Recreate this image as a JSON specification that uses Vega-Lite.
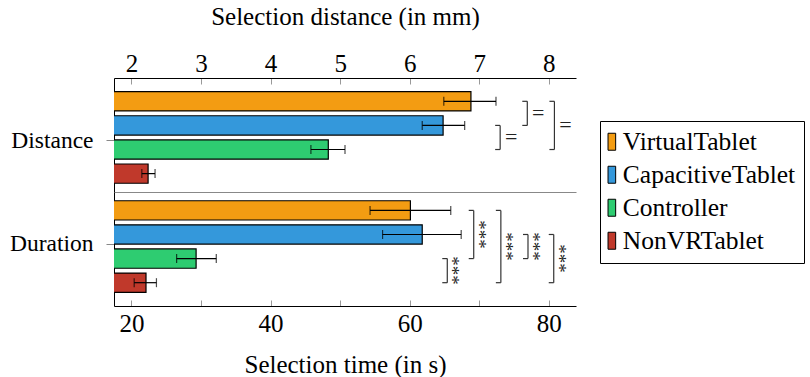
{
  "$schema": "https://vega.github.io/schema/vega-lite/v6.json",
  "autosize": {"type": "pad", "resize": false},
  "padding": {"left": 9, "top": 4, "right": 0, "bottom": 0},
  "config": {
    "view": {"stroke": null},
    "font": "Liberation Serif",
    "axis": {"labelFont": "Liberation Serif", "titleFont": "Liberation Serif", "labelColor": "black", "titleColor": "black", "titleFontWeight": "normal", "domainColor": "black", "tickColor": "#999", "grid": false},
    "legend": {"labelFont": "Liberation Serif"}
  },
  "datasets": {
    "bars": [
      {"measure": "Distance", "cond": "VirtualTablet", "mean": 6.88, "lo": 6.49, "hi": 7.24},
      {"measure": "Distance", "cond": "CapacitiveTablet", "mean": 6.48, "lo": 6.18, "hi": 6.79},
      {"measure": "Distance", "cond": "Controller", "mean": 4.83, "lo": 4.58, "hi": 5.07},
      {"measure": "Distance", "cond": "NonVRTablet", "mean": 2.24, "lo": 2.15, "hi": 2.34},
      {"measure": "Duration", "cond": "VirtualTablet", "mean": 60.1, "lo": 54.3, "hi": 65.9},
      {"measure": "Duration", "cond": "CapacitiveTablet", "mean": 61.8, "lo": 56.1, "hi": 67.4},
      {"measure": "Duration", "cond": "Controller", "mean": 29.3, "lo": 26.5, "hi": 32.2},
      {"measure": "Duration", "cond": "NonVRTablet", "mean": 22.1, "lo": 20.4, "hi": 23.6}
    ],
    "brackets": [
      {"measure": "Distance", "from": "VirtualTablet", "to": "CapacitiveTablet", "mid": "VirtualTablet", "span": 1, "bx": 7.69, "label": "="},
      {"measure": "Distance", "from": "CapacitiveTablet", "to": "Controller", "mid": "CapacitiveTablet", "span": 1, "bx": 7.30, "label": "="},
      {"measure": "Distance", "from": "VirtualTablet", "to": "Controller", "mid": "CapacitiveTablet", "span": 2, "bx": 8.08, "label": "="},
      {"measure": "Duration", "from": "Controller", "to": "NonVRTablet", "mid": "Controller", "span": 1, "bx": 65.4, "label": "***"},
      {"measure": "Duration", "from": "VirtualTablet", "to": "Controller", "mid": "CapacitiveTablet", "span": 2, "bx": 69.2, "label": "***"},
      {"measure": "Duration", "from": "VirtualTablet", "to": "NonVRTablet", "mid": "CapacitiveTablet", "span": 3, "bx": 73.1, "label": "***"},
      {"measure": "Duration", "from": "CapacitiveTablet", "to": "Controller", "mid": "CapacitiveTablet", "span": 1, "bx": 77.0, "label": "***"},
      {"measure": "Duration", "from": "CapacitiveTablet", "to": "NonVRTablet", "mid": "Controller", "span": 2, "bx": 80.7, "label": "***"}
    ]
  },
  "spacing": 0,
  "resolve": {"scale": {"x": "independent", "y": "independent", "fill": "shared"}},
  "vconcat": [
    {
      "width": 462,
      "height": 114,
      "layer": [
        {
          "layer": [
            {
              "data": {"name": "bars"},
              "transform": [{"filter": "datum.measure === 'Distance'"}],
              "layer": [
                {
                  "mark": {"type": "bar", "stroke": "black", "strokeWidth": 1.2, "clip": true},
                  "encoding": {
                    "y": {"field": "cond", "type": "nominal", "axis": null, "scale": {"domain": ["VirtualTablet", "CapacitiveTablet", "Controller", "NonVRTablet"], "paddingInner": 0.2, "paddingOuter": 0.465, "align": 0.61}},
                    "x": {"field": "mean", "type": "quantitative", "scale": {"domain": [1.75, 8.39], "nice": false, "zero": false},
                      "axis": {"orient": "top", "values": [2, 2.5, 3, 3.5, 4, 4.5, 5, 5.5, 6, 6.5, 7, 7.5, 8], "labelExpr": "datum.value % 1 === 0 ? '' + datum.value : ''", "tickSize": -6, "labelPadding": 13, "labelBaseline": "alphabetic", "labelFontSize": 25, "labelFlush": false, "labelOverlap": false, "title": "Selection distance (in mm)", "titleFontSize": 25, "titlePadding": 27, "titleBaseline": "alphabetic"}},
                    "fill": {"field": "cond", "type": "nominal", "scale": {"domain": ["VirtualTablet", "CapacitiveTablet", "Controller", "NonVRTablet"], "range": ["#F39C12", "#3498DB", "#2ECC71", "#C0392B"]},
                      "legend": {"orient": "none", "legendX": 486, "legendY": 43, "title": null, "strokeColor": "black", "fillColor": "white", "padding": 8, "symbolType": "M -3.0 -2 L -1.2 -2 L -1.2 2 L -3.0 2 Z", "symbolSize": 72, "symbolStrokeColor": "black", "symbolStrokeWidth": 1, "labelFontSize": 25.5, "labelColor": "black", "labelOffset": -10.7, "rowPadding": 6, "labelLimit": 300}}
                  }
                },
                {
                  "mark": {"type": "rule", "color": "black", "strokeWidth": 1.2},
                  "encoding": {
                    "y": {"field": "cond", "type": "nominal", "axis": null, "bandPosition": 0.5},
                    "x": {"field": "lo", "type": "quantitative"},
                    "x2": {"field": "hi"}
                  }
                },
                {
                  "mark": {"type": "tick", "color": "black", "size": 9, "thickness": 1.2},
                  "encoding": {"y": {"field": "cond", "type": "nominal", "axis": null}, "x": {"field": "lo", "type": "quantitative"}}
                },
                {
                  "mark": {"type": "tick", "color": "black", "size": 9, "thickness": 1.2},
                  "encoding": {"y": {"field": "cond", "type": "nominal", "axis": null}, "x": {"field": "hi", "type": "quantitative"}}
                }
              ]
            },
            {
              "data": {"name": "brackets"},
              "transform": [{"filter": "datum.measure === 'Distance'"}],
              "layer": [
                {
                  "mark": {"type": "rule", "color": "#333", "strokeWidth": 1.2},
                  "encoding": {
                    "x": {"field": "bx", "type": "quantitative"},
                    "y": {"field": "from", "type": "nominal", "axis": null, "bandPosition": 0.5},
                    "y2": {"field": "to", "bandPosition": 0.5}
                  }
                },
                {
                  "mark": {"type": "rule", "color": "#333", "strokeWidth": 1.2, "xOffset": -5},
                  "encoding": {
                    "x": {"field": "bx", "type": "quantitative"},
                    "x2": {"field": "bx"},
                    "y": {"field": "from", "type": "nominal", "axis": null, "bandPosition": 0.5}
                  }
                },
                {
                  "mark": {"type": "rule", "color": "#333", "strokeWidth": 1.2, "xOffset": -5},
                  "encoding": {
                    "x": {"field": "bx", "type": "quantitative"},
                    "x2": {"field": "bx"},
                    "y": {"field": "to", "type": "nominal", "axis": null, "bandPosition": 0.5}
                  }
                },
                {
                  "transform": [{"filter": "datum.span % 2 === 0"}],
                  "mark": {"type": "text", "font": "Liberation Serif", "fontSize": 22, "color": "#222", "align": "center", "baseline": "middle", "xOffset": 11},
                  "encoding": {
                    "x": {"field": "bx", "type": "quantitative"},
                    "y": {"field": "mid", "type": "nominal", "axis": null},
                    "text": {"field": "label"}
                  }
                },
                {
                  "transform": [{"filter": "datum.span % 2 === 1"}],
                  "mark": {"type": "text", "font": "Liberation Serif", "fontSize": 22, "color": "#222", "align": "center", "baseline": "middle", "xOffset": 11, "yOffset": 12},
                  "encoding": {
                    "x": {"field": "bx", "type": "quantitative"},
                    "y": {"field": "mid", "type": "nominal", "axis": null},
                    "text": {"field": "label"}
                  }
                }
              ]
            }
          ]
        },
        {
          "data": {"name": "bars"},
          "transform": [{"filter": "datum.measure === 'Distance'"}],
          "mark": {"type": "point", "opacity": 0},
          "encoding": {
            "y": {"field": "measure", "type": "nominal", "scale": {"domain": ["Distance"], "paddingOuter": 0.5, "align": 0.544},
              "axis": {"title": null, "labelFontSize": 23.5, "tickSize": 8, "tickColor": "#888", "labelPadding": 13, "domainColor": "black"}}
          }
        }
      ],
      "resolve": {"scale": {"y": "independent"}}
    },
    {
      "width": 462,
      "height": 114,
      "layer": [
        {
          "layer": [
            {
              "data": {"name": "bars"},
              "transform": [{"filter": "datum.measure === 'Duration'"}],
              "layer": [
                {
                  "mark": {"type": "bar", "stroke": "black", "strokeWidth": 1.2, "clip": true},
                  "encoding": {
                    "y": {"field": "cond", "type": "nominal", "axis": null, "scale": {"domain": ["VirtualTablet", "CapacitiveTablet", "Controller", "NonVRTablet"], "paddingInner": 0.2, "paddingOuter": 0.465, "align": 0.39}},
                    "x": {"field": "mean", "type": "quantitative", "scale": {"domain": [17.5, 83.9], "nice": false, "zero": false},
                      "axis": {"orient": "bottom", "values": [20, 30, 40, 50, 60, 70, 80], "labelExpr": "datum.value % 20 === 0 ? datum.label : ''", "tickSize": -6, "labelPadding": 31, "labelBaseline": "alphabetic", "labelFontSize": 25, "labelFlush": false, "labelOverlap": false, "title": "Selection time (in s)", "titleFontSize": 25, "titlePadding": 36, "titleBaseline": "alphabetic"}},
                    "fill": {"field": "cond", "type": "nominal"}
                  }
                },
                {
                  "mark": {"type": "rule", "color": "black", "strokeWidth": 1.2},
                  "encoding": {
                    "y": {"field": "cond", "type": "nominal", "axis": null, "bandPosition": 0.5},
                    "x": {"field": "lo", "type": "quantitative"},
                    "x2": {"field": "hi"}
                  }
                },
                {
                  "mark": {"type": "tick", "color": "black", "size": 9, "thickness": 1.2},
                  "encoding": {"y": {"field": "cond", "type": "nominal", "axis": null}, "x": {"field": "lo", "type": "quantitative"}}
                },
                {
                  "mark": {"type": "tick", "color": "black", "size": 9, "thickness": 1.2},
                  "encoding": {"y": {"field": "cond", "type": "nominal", "axis": null}, "x": {"field": "hi", "type": "quantitative"}}
                }
              ]
            },
            {
              "data": {"name": "brackets"},
              "transform": [{"filter": "datum.measure === 'Duration'"}],
              "layer": [
                {
                  "mark": {"type": "rule", "color": "#333", "strokeWidth": 1.2},
                  "encoding": {
                    "x": {"field": "bx", "type": "quantitative"},
                    "y": {"field": "from", "type": "nominal", "axis": null, "bandPosition": 0.5},
                    "y2": {"field": "to", "bandPosition": 0.5}
                  }
                },
                {
                  "mark": {"type": "rule", "color": "#333", "strokeWidth": 1.2, "xOffset": -5},
                  "encoding": {
                    "x": {"field": "bx", "type": "quantitative"},
                    "x2": {"field": "bx"},
                    "y": {"field": "from", "type": "nominal", "axis": null, "bandPosition": 0.5}
                  }
                },
                {
                  "mark": {"type": "rule", "color": "#333", "strokeWidth": 1.2, "xOffset": -5},
                  "encoding": {
                    "x": {"field": "bx", "type": "quantitative"},
                    "x2": {"field": "bx"},
                    "y": {"field": "to", "type": "nominal", "axis": null, "bandPosition": 0.5}
                  }
                },
                {
                  "transform": [{"filter": "datum.span % 2 === 0"}],
                  "mark": {"type": "text", "font": "Liberation Serif", "fontSize": 19, "color": "#222", "align": "center", "baseline": "middle", "angle": 90, "xOffset": 5},
                  "encoding": {
                    "x": {"field": "bx", "type": "quantitative"},
                    "y": {"field": "mid", "type": "nominal", "axis": null},
                    "text": {"field": "label"}
                  }
                },
                {
                  "transform": [{"filter": "datum.span % 2 === 1"}],
                  "mark": {"type": "text", "font": "Liberation Serif", "fontSize": 19, "color": "#222", "align": "center", "baseline": "middle", "angle": 90, "xOffset": 5, "yOffset": 12},
                  "encoding": {
                    "x": {"field": "bx", "type": "quantitative"},
                    "y": {"field": "mid", "type": "nominal", "axis": null},
                    "text": {"field": "label"}
                  }
                }
              ]
            }
          ]
        },
        {
          "data": {"name": "bars"},
          "transform": [{"filter": "datum.measure === 'Duration'"}],
          "mark": {"type": "point", "opacity": 0},
          "encoding": {
            "y": {"field": "measure", "type": "nominal", "scale": {"domain": ["Duration"], "paddingOuter": 0.5, "align": 0.456},
              "axis": {"title": null, "labelFontSize": 23.5, "tickSize": 8, "tickColor": "#888", "labelPadding": 13, "domainColor": "black"}},
            "x": {"field": "mean", "type": "quantitative", "axis": {"orient": "top", "labels": false, "ticks": false, "title": null, "domainColor": "#888", "domainWidth": 1.2}}
          }
        }
      ],
      "resolve": {"scale": {"y": "independent"}, "axis": {"x": "independent"}}
    }
  ]
}
